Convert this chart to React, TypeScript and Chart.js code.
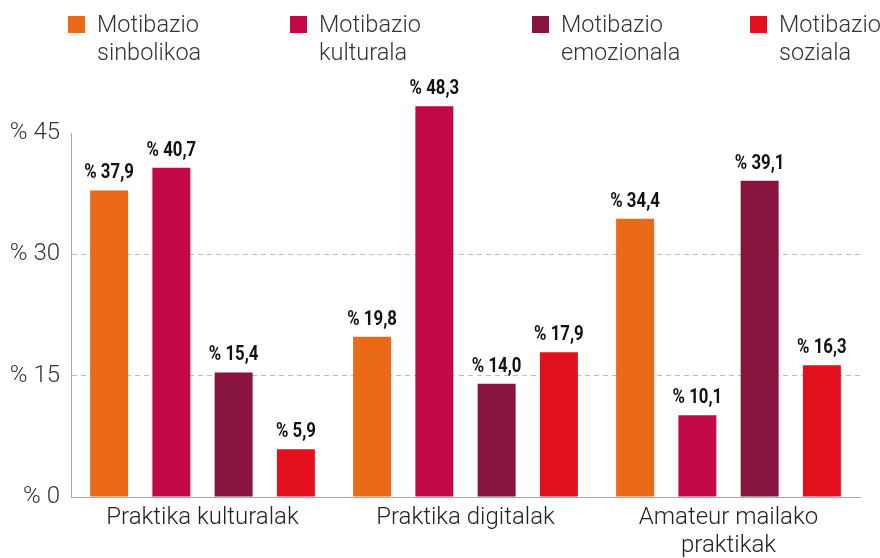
import React, { useEffect, useRef } from "react";
import { Chart, registerables } from "chart.js";

Chart.register(...registerables);

const categories: (string | string[])[] = [
  "Praktika kulturalak",
  "Praktika digitalak",
  ["Amateur mailako", "praktikak"],
];
const seriesNames: string[][] = [
  ["Motibazio", "sinbolikoa"],
  ["Motibazio", "kulturala"],
  ["Motibazio", "emozionala"],
  ["Motibazio", "soziala"],
];
const sinbolikoa = [37.9, 19.8, 34.4];
const kulturala = [40.7, 48.3, 10.1];
const emozionala = [15.4, 14.0, 39.1];
const soziala = [5.9, 17.9, 16.3];
const seriesColors = ["#EA6A17", "#C20845", "#86143E", "#E3111E"];
const yTicks = [0, 15, 30, 45];

const seriesValues = [sinbolikoa, kulturala, emozionala, soziala];

const fmt = (v: number) => "% " + v.toFixed(1).replace(".", ",");

const labelPlugin = {
  id: "valueLabels",
  afterDatasetsDraw(chart: any) {
    const ctx = chart.ctx;
    ctx.save();
    ctx.fillStyle = "#111";
    ctx.font = "bold 20px Roboto";
    ctx.textAlign = "center";
    ctx.textBaseline = "alphabetic";
    chart.data.datasets.forEach((ds: any, i: number) => {
      const meta = chart.getDatasetMeta(i);
      meta.data.forEach((el: any, j: number) => {
        const txt = fmt(ds.data[j]);
        ctx.save();
        ctx.translate(el.x, el.y - 12);
        ctx.scale(0.84, 1);
        ctx.fillText(txt, 0, 0);
        ctx.restore();
      });
    });
    ctx.restore();
  },
};

export default function App() {
  const ref = useRef<HTMLCanvasElement>(null);
  useEffect(() => {
    document.body.style.margin = "0";
    const chart = new Chart(ref.current!, {
      type: "bar",
      data: {
        labels: categories,
        datasets: seriesValues.map((vals, i) => ({
          label: seriesNames[i].join(" "),
          data: vals,
          backgroundColor: seriesColors[i],
          categoryPercentage: 0.947,
          barPercentage: 0.61,
          clip: false as any,
        })),
      },
      options: {
        animation: false,
        responsive: false,
        layout: { padding: { top: 133, right: 20, left: 0, bottom: 0 } },
        plugins: { legend: { display: false }, tooltip: { enabled: false } },
        scales: {
          x: {
            grid: { display: false, drawTicks: false },
            border: { display: true, color: "#aaa", width: 1 },
            ticks: {
              color: "#222",
              font: { family: "Roboto", weight: 300 as any, size: 24, lineHeight: 1.17 },
              padding: 7,
              maxRotation: 0,
            },
            afterFit: (s: any) => {
              s.height = 61;
            },
          },
          y: {
            min: 0,
            max: 45,
            afterBuildTicks: (s: any) => {
              s.ticks = yTicks.map((v) => ({ value: v }));
            },
            grid: {
              drawTicks: false,
              color: (c: any) =>
                c.tick && (c.tick.value === 15 || c.tick.value === 30) ? "#bdbdbd" : "rgba(0,0,0,0)",
            },
            border: { display: true, color: "#aaa", width: 1, dash: [5, 4] as any },
            ticks: {
              color: "#333",
              font: { family: "Roboto", weight: 300 as any, size: 24 },
              padding: 11,
              callback: (v: any) => "% " + v,
            },
            afterFit: (s: any) => {
              s.width = 71;
            },
          },
        },
      },
      plugins: [labelPlugin],
    });
    return () => chart.destroy();
  }, []);

  return (
    <div style={{ position: "relative", width: 880, height: 558, fontFamily: "Roboto" }}>
      <canvas ref={ref} width={880} height={558} style={{ position: "absolute", left: 0, top: 0 }} />
      {seriesNames.map((name, i) => (
        <div
          key={i}
          style={{
            position: "absolute",
            left: [68, 290, 532, 750][i],
            top: 10,
            display: "flex",
            alignItems: "flex-start",
          }}
        >
          <div style={{ width: 17, height: 17, background: seriesColors[i], marginTop: 6, marginRight: 12 }} />
          <div style={{ fontWeight: 300, fontSize: 23.5, lineHeight: "28px", color: "#333" }}>
            {name.map((l, k) => (
              <div key={k}>{l}</div>
            ))}
          </div>
        </div>
      ))}
    </div>
  );
}
